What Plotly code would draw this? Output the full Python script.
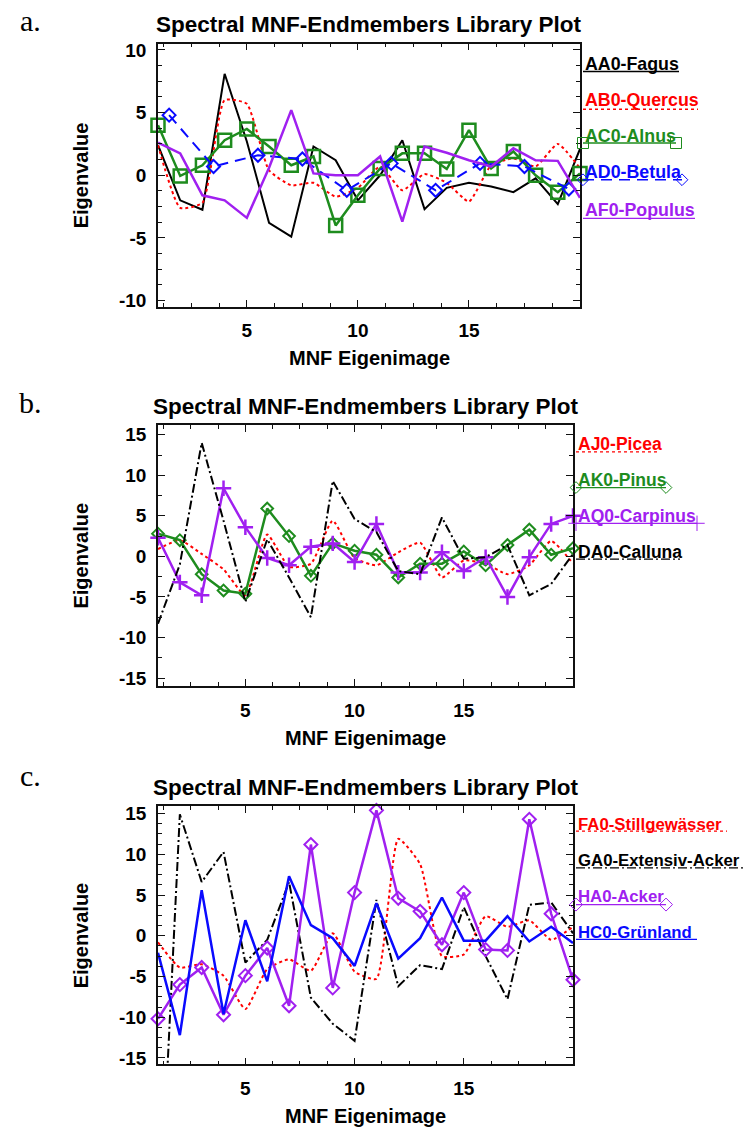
import plotly.graph_objects as go

W, H = 748, 1129

# ---------------- data ----------------
eigenimage = list(range(1, 21))

# panel a
a_fagus = [2.4, -2.0, -2.75, 8.1, 2.7, -3.8, -4.9, 2.3, 1.2, -2.0, 0.0, 2.8, -2.7, -1.0, -0.6, -0.9, -1.35, -0.25, -2.3, 2.1]
a_quercus = [2.4, -2.6, -2.2, 6.0, 5.7, 0.4, -0.8, -0.6, -1.7, -1.0, 0.7, -1.2, 0.1, -0.6, -2.1, 0.8, 1.35, 0.7, 2.5, 0.55]
a_alnus = [4.0, -0.05, 0.8, 2.8, 3.7, 2.3, 0.8, 1.5, -4.0, -1.6, 0.55, 1.75, 1.75, 0.5, 3.6, 0.55, 1.9, 0.0, -1.35, 0.15]
a_betula_x = [1.5, 3.5, 5.5, 7.5, 9.5, 11.5, 13.5, 15.5, 17.5, 19.5]
a_betula = [4.8, 0.7, 1.6, 1.3, -1.2, 0.95, -1.2, 0.95, 0.7, -1.1]
a_populus = [2.6, 1.75, -1.6, -2.0, -3.4, 0.6, 5.2, 0.15, 0.0, 0.0, 1.5, -3.7, 2.3, 1.8, 1.2, 0.7, 2.15, 1.2, 1.15, -1.8]

# panel b
b_picea = [0.9, 2.0, 0.3, -1.6, -4.8, 2.7, -1.3, -0.9, 4.4, -0.2, -1.1, 0.5, 1.7, -2.6, -0.5, -0.9, -2.2, -1.1, 1.9, -0.9]
b_pinus = [2.8, 2.0, -2.2, -4.2, -4.6, 5.9, 2.5, -2.4, 1.6, 0.7, 0.2, -2.6, -0.9, -0.9, 0.6, -1.1, 1.4, 3.3, 0.2, 1.0]
b_carpinus = [2.3, -3.2, -4.8, 8.4, 3.6, -0.2, -1.1, 1.2, 1.6, -0.7, 4.0, -2.0, -2.0, 0.5, -1.8, -0.1, -5.0, -0.1, 4.0, 5.0]
b_calluna = [-8.3, -1.0, 14.0, 4.4, -5.6, 2.1, -2.6, -7.5, 9.3, 4.6, 3.0, -1.8, -2.2, 4.8, -0.3, -0.1, 1.4, -4.8, -3.4, 0.3]

# panel c
c_stillgewaesser = [-0.8, -3.9, -3.5, -4.9, -9.0, -4.1, -2.9, -4.3, 0.3, -4.4, -5.3, 11.9, 8.8, -2.5, -2.3, 2.4, 1.1, 1.9, -0.5, 1.1]
c_extensiv = [-40.0, 14.9, 6.6, 10.3, -3.3, -0.5, 6.6, -7.6, -10.8, -12.9, 4.4, -6.2, -3.6, -4.1, 3.5, -2.5, -7.8, 3.8, 4.1, 0.3]
c_acker = [-10.2, -6.0, -3.9, -9.7, -4.9, -1.5, -8.6, 11.2, -6.4, 5.3, 15.4, 4.6, 3.0, -1.1, 5.3, -1.7, -1.8, 14.3, 2.7, -5.4]
c_gruenland = [-2.1, -12.2, 5.6, -9.6, 1.9, -5.6, 7.3, 1.3, -0.3, -3.7, 4.0, -2.8, -0.3, 4.7, -0.6, -0.6, 2.4, -0.7, 1.1, -0.9]

title_text = "Spectral MNF-Endmembers Library Plot"
x_title = "MNF Eigenimage"
y_title = "Eigenvalue"
x_tickvals = [5, 10, 15]
x_ticktext = ["5", "10", "15"]
ya_tickvals = [-10, -5, 0, 5, 10]
ya_ticktext = ["-10", "-5", "0", "5", "10"]
ybc_tickvals = [-15, -10, -5, 0, 5, 10, 15]
ybc_ticktext = ["-15", "-10", "-5", "0", "5", "10", "15"]

# ---------------- styles ----------------
BLACK = "#000000"
RED = "#ff0000"
GREEN = "#1e8c1e"
BLUE = "#0a0aff"
PURPLE = "#a020f0"
FONT = "Liberation Sans, Arial, sans-serif"
SERIF = "Liberation Serif, Times New Roman, serif"
DASHDOT = "9px,3px,2px,3px"
DASH = "11px,7px"

fig = go.Figure()


def add_series(axis, x, y, color, dash="solid", symbol=None, msize=10, mlw=2, lw=2, shape="linear"):
    mode = "lines+markers" if symbol else "lines"
    kw = dict(x=x, y=y, mode=mode, xaxis="x" + axis, yaxis="y" + axis,
              line=dict(color=color, width=lw, dash=dash, shape=shape),
              showlegend=False, hoverinfo="skip", cliponaxis=False)
    if shape == "spline":
        kw["line"]["smoothing"] = 0.5
    if symbol:
        kw["marker"] = dict(symbol=symbol, size=msize, color=color,
                            line=dict(color=color, width=mlw))
    fig.add_trace(go.Scatter(**kw))


# panel a
add_series("", eigenimage, a_fagus, BLACK)
add_series("", eigenimage, a_quercus, RED, dash="dot", shape="spline")
add_series("", eigenimage, a_alnus, GREEN, symbol="square-open", msize=13, mlw=2.5, lw=2.5)
add_series("", a_betula_x, a_betula, BLUE, dash=DASH, symbol="diamond-open", msize=10, mlw=2)
add_series("", eigenimage, a_populus, PURPLE, lw=2.5)

# panel b
add_series("2", eigenimage, b_picea, RED, dash="dot", shape="spline")
add_series("2", eigenimage, b_pinus, GREEN, symbol="diamond-open", msize=9, mlw=2, lw=2.5)
add_series("2", eigenimage, b_carpinus, PURPLE, symbol="cross-thin-open", msize=11, mlw=2.5, lw=2.5)
add_series("2", eigenimage, b_calluna, BLACK, dash=DASHDOT)

# panel c
add_series("3", eigenimage, c_stillgewaesser, RED, dash="dot", shape="spline")
add_series("3", eigenimage, c_extensiv, BLACK, dash=DASHDOT)
add_series("3", eigenimage, c_acker, PURPLE, symbol="diamond-open", msize=10, mlw=2, lw=2.5)
add_series("3", eigenimage, c_gruenland, BLUE, lw=2.5)

# ---------------- layout ----------------
panels = [
    dict(ax="", xd=(158, 580), yd=(40, 305), yr=[-10.5, 10.5], yt=ya_tickvals, ytt=ya_ticktext, ym=1.25, label="a.", ly=17),
    dict(ax="2", xd=(158, 573), yd=(424, 687), yr=[-16, 16.2], yt=ybc_tickvals, ytt=ybc_ticktext, ym=2.5, label="b.", ly=401),
    dict(ax="3", xd=(158, 573), yd=(808, 1068), yr=[-15.8, 15.9], yt=ybc_tickvals, ytt=ybc_ticktext, ym=1.25, label="c.", ly=777),
]

tickfont = dict(family=FONT, size=19, color=BLACK, weight="bold")
annotations = []
layout_axes = {}
for p in panels:
    n = p["ax"]
    x0, x1 = p["xd"]
    y0, y1 = p["yd"]
    common = dict(showgrid=False, zeroline=False, showline=True, linecolor="#111", linewidth=1.5,
                  mirror="allticks", ticks="inside", ticklen=7, tickwidth=1.2, tickcolor="#111",
                  tickfont=tickfont, fixedrange=True)
    layout_axes["xaxis" + n] = dict(common, domain=[x0 / W, x1 / W], range=[1, 20],
                                    anchor="y" + n, tickmode="array", tickvals=x_tickvals,
                                    ticktext=x_ticktext, ticklabelstandoff=6,
                                    minor=dict(dtick=1.25, tick0=0, ticks="inside", ticklen=4,
                                               tickcolor="#111", tickwidth=1.2))
    layout_axes["yaxis" + n] = dict(common, domain=[1 - y1 / H, 1 - y0 / H], range=p["yr"],
                                    anchor="x" + n, tickmode="array", tickvals=p["yt"],
                                    ticktext=p["ytt"], ticklabelstandoff=6,
                                    minor=dict(dtick=p["ym"], tick0=0, ticks="inside", ticklen=4,
                                               tickcolor="#111", tickwidth=1.2))
    cx = (x0 + x1) / 2
    annotations.append(dict(text=title_text, x=cx / W, y=1 - (y0 - 19) / H, xref="paper", yref="paper",
                            xanchor="center", yanchor="middle", showarrow=False,
                            font=dict(family=FONT, size=22.5, color=BLACK, weight="bold")))
    annotations.append(dict(text=x_title, x=cx / W, y=1 - (y1 + 52) / H, xref="paper", yref="paper",
                            xanchor="center", yanchor="middle", showarrow=False,
                            font=dict(family=FONT, size=20, color=BLACK, weight="bold")))
    annotations.append(dict(text=y_title, x=81 / W, y=1 - ((y0 + y1) / 2) / H, xref="paper", yref="paper",
                            xanchor="center", yanchor="middle", showarrow=False, textangle=-90,
                            font=dict(family=FONT, size=20, color=BLACK, weight="bold")))
    annotations.append(dict(text=p["label"], x=30 / W, y=1 - p["ly"] / H, xref="paper", yref="paper",
                            xanchor="center", yanchor="middle", showarrow=False,
                            font=dict(family=SERIF, size=30, color=BLACK)))

# legend (IDL style: label with sample line underneath), drawn on a pixel overlay axis
legend_items = [
    # text, color, text_x, text_y, line_y, line_x_end, dash, symbol, msize, fontsize
    ("AA0-Fagus", BLACK, 583, 60, 68, 679, "solid", None, 0, 17.8),
    ("AB0-Quercus", RED, 583, 97, 106, 698, "dot", None, 0, 17.8),
    ("AC0-Alnus", GREEN, 583, 133, 140, 676, "solid", "square-open", 11, 17.8),
    ("AD0-Betula", BLUE, 583, 169, 177, 682, DASH, "diamond-open", 9, 17.8),
    ("AF0-Populus", PURPLE, 583, 207, 216, 695, "solid", None, 0, 17.8),
    ("AJ0-Picea", RED, 576, 443, 451, 660, "dot", None, 0, 17.5),
    ("AK0-Pinus", GREEN, 576, 479, 487, 666, "solid", "diamond-open", 9, 17.5),
    ("AQ0-Carpinus", PURPLE, 576, 516, 523, 697, "solid", "cross-thin-open", 11, 17.5),
    ("DA0-Calluna", BLACK, 576, 552, 559, 680, DASHDOT, None, 0, 17.5),
    ("FA0-Stillgewässer", RED, 576, 826, 833, 727, "dot", None, 0, 16.8),
    ("GA0-Extensiv-Acker", BLACK, 576, 863, 870, 745, DASHDOT, None, 0, 16.8),
    ("HA0-Acker", PURPLE, 576, 899, 907, 666, "solid", "diamond-open", 10, 16.8),
    ("HC0-Grünland", BLUE, 576, 935, 942, 697, "solid", None, 0, 16.8),
]
for text, color, tx, ty, ly, lx1, dash, sym, ms, fs in legend_items:
    annotations.append(dict(text=text, x=tx / W, y=1 - ty / H, xref="paper", yref="paper",
                            xanchor="left", yanchor="middle", showarrow=False,
                            font=dict(family=FONT, size=fs, color=color, weight="bold")))
    tr = dict(x=[tx, lx1], y=[ly, ly], xaxis="x4", yaxis="y4", showlegend=False, hoverinfo="skip",
              line=dict(color=color, width=1.3, dash=dash), cliponaxis=False)
    if sym:
        tr["mode"] = "lines+markers"
        tr["marker"] = dict(symbol=sym, size=ms, color=color, line=dict(color=color, width=1))
    else:
        tr["mode"] = "lines"
    fig.add_trace(go.Scatter(**tr))

layout_axes["xaxis4"] = dict(domain=[0, 1], range=[0, W], visible=False, fixedrange=True, anchor="y4")
layout_axes["yaxis4"] = dict(domain=[0, 1], range=[H, 0], visible=False, fixedrange=True, anchor="x4")

fig.update_layout(
    width=W, height=H,
    margin=dict(l=0, r=0, t=0, b=0),
    paper_bgcolor="white", plot_bgcolor="rgba(0,0,0,0)",
    showlegend=False,
    annotations=annotations,
    **layout_axes,
)

fig.write_html("out.html")
